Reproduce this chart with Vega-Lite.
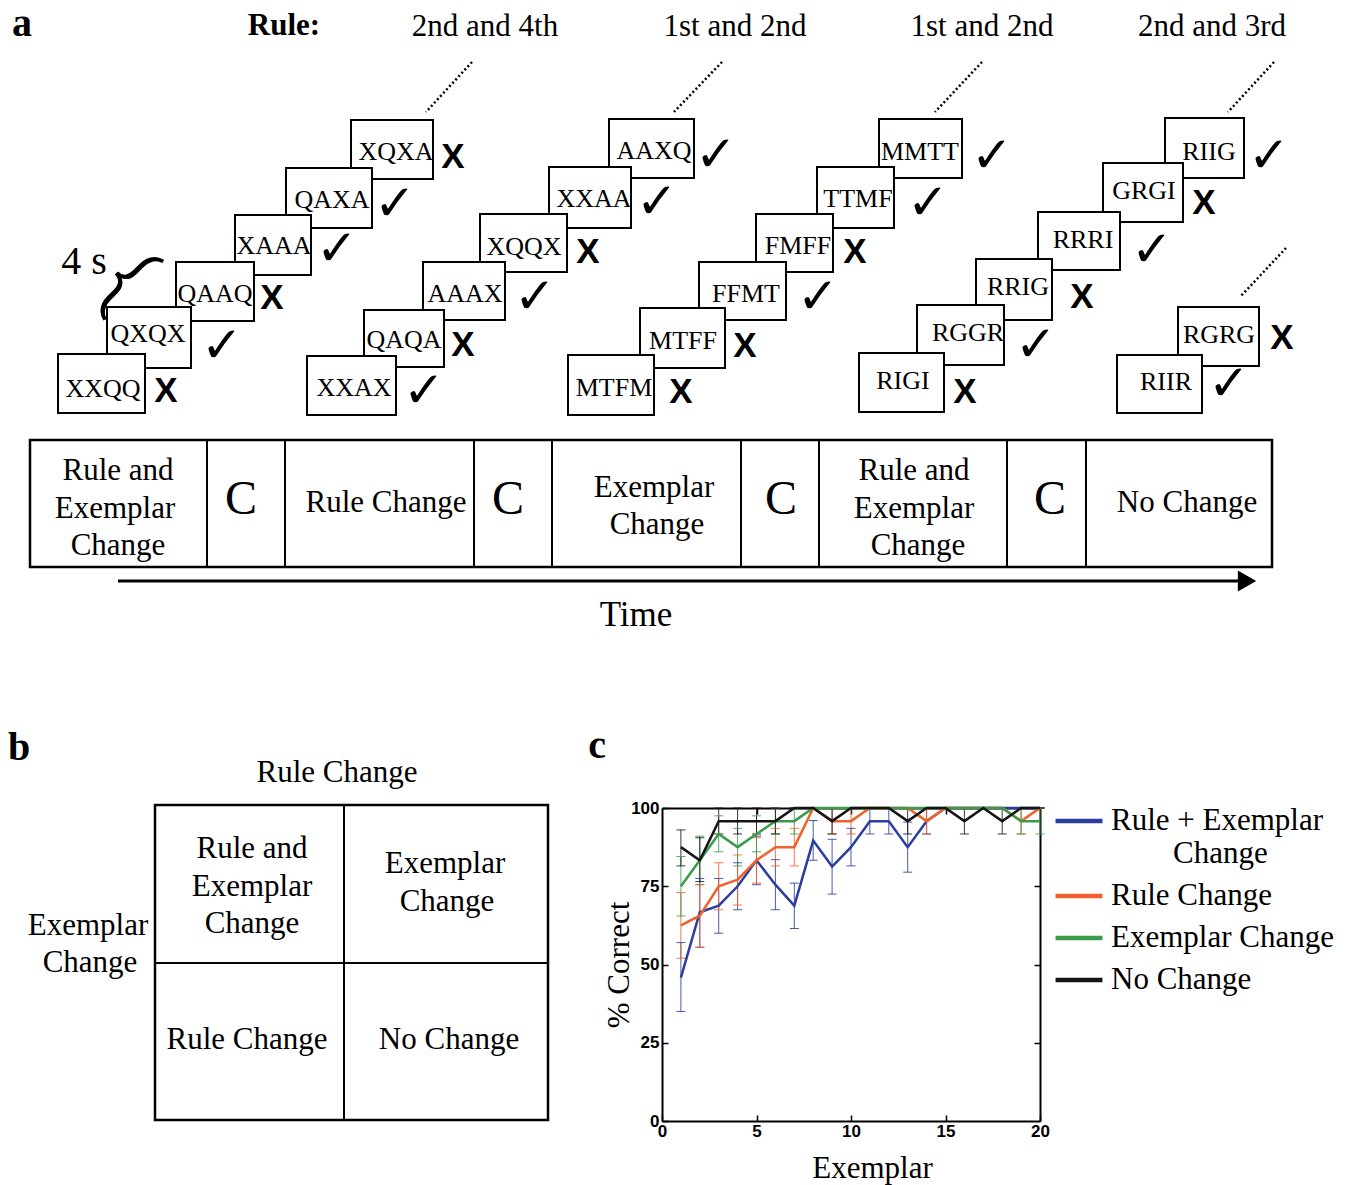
{
  "$schema": "https://vega.github.io/schema/vega-lite/v6.json",
  "padding": 0,
  "spacing": 0,
  "bounds": "flush",
  "background": "white",
  "config": {"view": {"stroke": null}},
  "datasets": {
    "boxes": [
      {"label":"XQXA","x":351,"x2":433,"y":120,"y2":179,"tx":396,"ty":152,"correct":false,"mx":453,"my":157},
      {"label":"QAXA","x":286,"x2":372,"y":168,"y2":228,"tx":332,"ty":200,"correct":true,"mx":395,"my":205},
      {"label":"XAAA","x":235,"x2":311,"y":215,"y2":275,"tx":274,"ty":246,"correct":true,"mx":337,"my":250},
      {"label":"QAAQ","x":176,"x2":254,"y":262,"y2":321,"tx":215,"ty":294,"correct":false,"mx":272,"my":298},
      {"label":"QXQX","x":107,"x2":191,"y":307,"y2":368,"tx":148,"ty":334,"correct":true,"mx":222,"my":347},
      {"label":"XXQQ","x":58,"x2":145,"y":354,"y2":413,"tx":103,"ty":389,"correct":false,"mx":166,"my":391},
      {"label":"AAXQ","x":609,"x2":694,"y":119,"y2":178,"tx":654,"ty":151,"correct":true,"mx":716,"my":156},
      {"label":"XXAA","x":549,"x2":631,"y":167,"y2":228,"tx":594,"ty":199,"correct":true,"mx":657,"my":203},
      {"label":"XQQX","x":480,"x2":567,"y":214,"y2":272,"tx":524,"ty":247,"correct":false,"mx":588,"my":252},
      {"label":"AAAX","x":423,"x2":505,"y":262,"y2":320,"tx":465,"ty":294,"correct":true,"mx":535,"my":298},
      {"label":"QAQA","x":364,"x2":444,"y":310,"y2":367,"tx":404,"ty":340,"correct":false,"mx":463,"my":345},
      {"label":"XXAX","x":307,"x2":396,"y":356,"y2":415,"tx":354,"ty":388,"correct":true,"mx":424,"my":392},
      {"label":"MMTT","x":879,"x2":962,"y":119,"y2":178,"tx":920,"ty":152,"correct":true,"mx":992,"my":157},
      {"label":"TTMF","x":817,"x2":894,"y":167,"y2":228,"tx":858,"ty":199,"correct":true,"mx":928,"my":204},
      {"label":"FMFF","x":756,"x2":833,"y":214,"y2":272,"tx":798,"ty":246,"correct":false,"mx":855,"my":252},
      {"label":"FFMT","x":699,"x2":786,"y":262,"y2":320,"tx":746,"ty":294,"correct":true,"mx":818,"my":298},
      {"label":"MTFF","x":640,"x2":725,"y":308,"y2":368,"tx":683,"ty":341,"correct":false,"mx":745,"my":346},
      {"label":"MTFM","x":568,"x2":654,"y":355,"y2":415,"tx":614,"ty":388,"correct":false,"mx":681,"my":392},
      {"label":"RIIG","x":1165,"x2":1244,"y":118,"y2":178,"tx":1209,"ty":152,"correct":true,"mx":1269,"my":157},
      {"label":"GRGI","x":1103,"x2":1183,"y":163,"y2":222,"tx":1144,"ty":191,"correct":false,"mx":1204,"my":203},
      {"label":"RRRI","x":1038,"x2":1120,"y":212,"y2":270,"tx":1083,"ty":240,"correct":true,"mx":1152,"my":251},
      {"label":"RRIG","x":976,"x2":1052,"y":259,"y2":320,"tx":1018,"ty":287,"correct":false,"mx":1082,"my":297},
      {"label":"RGGR","x":917,"x2":1004,"y":305,"y2":365,"tx":968,"ty":333,"correct":true,"mx":1036,"my":346},
      {"label":"RIGI","x":859,"x2":944,"y":353,"y2":412,"tx":903,"ty":381,"correct":false,"mx":965,"my":392},
      {"label":"RGRG","x":1178,"x2":1259,"y":307,"y2":366,"tx":1219,"ty":335,"correct":false,"mx":1282,"my":338},
      {"label":"RIIR","x":1117,"x2":1202,"y":355,"y2":413,"tx":1166,"ty":382,"correct":true,"mx":1229,"my":385}
    ],
    "segments": [
      {"kind":"dotted","x":472,"x2":426,"y":62,"y2":112},
      {"kind":"dotted","x":722,"x2":674,"y":62,"y2":112},
      {"kind":"dotted","x":982,"x2":935,"y":62,"y2":112},
      {"kind":"dotted","x":1274,"x2":1228,"y":62,"y2":112},
      {"kind":"dotted","x":1286,"x2":1241,"y":248,"y2":296},
      {"kind":"divider","x":207,"x2":207,"y":440,"y2":567},
      {"kind":"divider","x":285,"x2":285,"y":440,"y2":567},
      {"kind":"divider","x":474,"x2":474,"y":440,"y2":567},
      {"kind":"divider","x":552,"x2":552,"y":440,"y2":567},
      {"kind":"divider","x":741,"x2":741,"y":440,"y2":567},
      {"kind":"divider","x":819,"x2":819,"y":440,"y2":567},
      {"kind":"divider","x":1007,"x2":1007,"y":440,"y2":567},
      {"kind":"divider","x":1086,"x2":1086,"y":440,"y2":567},
      {"kind":"arrow","x":118,"x2":1238,"y":581,"y2":581}
    ],
    "atexts": [
      {"kind":"panel","text":"a","x":22,"y":4},
      {"kind":"panel","text":"b","x":19,"y":728},
      {"kind":"panel","text":"c","x":597,"y":726},
      {"kind":"head","text":"Rule:","x":284,"y":26},
      {"kind":"normal","text":"2nd and 4th","x":485,"y":27},
      {"kind":"normal","text":"1st and 2nd","x":735,"y":27},
      {"kind":"normal","text":"1st and 2nd","x":982,"y":27},
      {"kind":"normal","text":"2nd and 3rd","x":1212,"y":27},
      {"kind":"normal","text":"Rule Change","x":337,"y":773},
      {"kind":"normal","text":"Rule and","x":118,"y":471},
      {"kind":"normal","text":"Exemplar","x":115,"y":509},
      {"kind":"normal","text":"Change","x":118,"y":546},
      {"kind":"normal","text":"Rule Change","x":386,"y":503},
      {"kind":"normal","text":"Exemplar","x":654,"y":488},
      {"kind":"normal","text":"Change","x":657,"y":525},
      {"kind":"normal","text":"Rule and","x":914,"y":471},
      {"kind":"normal","text":"Exemplar","x":914,"y":509},
      {"kind":"normal","text":"Change","x":918,"y":546},
      {"kind":"normal","text":"No Change","x":1187,"y":503},
      {"kind":"fours","text":"4 s","x":84,"y":262},
      {"kind":"bigC","text":"C","x":241,"y":500},
      {"kind":"bigC","text":"C","x":508,"y":500},
      {"kind":"bigC","text":"C","x":781,"y":500},
      {"kind":"bigC","text":"C","x":1050,"y":500},
      {"kind":"time","text":"Time","x":636,"y":615},
      {"kind":"brace","text":"{","x":125,"y":281}
    ],
    "btexts": [
      {"text":"Rule and","x":252,"y":849},
      {"text":"Exemplar","x":252,"y":887},
      {"text":"Change","x":252,"y":924},
      {"text":"Exemplar","x":445,"y":864},
      {"text":"Change","x":447,"y":902},
      {"text":"Rule Change","x":247,"y":1040},
      {"text":"No Change","x":449,"y":1040},
      {"text":"Exemplar","x":88,"y":926},
      {"text":"Change","x":90,"y":963}
    ],
    "bsegs": [
      {"x":344,"x2":344,"y":805,"y2":1120},
      {"x":155,"x2":548,"y":963,"y2":963}
    ],
    "perf": [
      {"condition":"Rule + Exemplar Change","exemplar":1,"pct":45.8,"lo":35,"hi":57},
      {"condition":"Rule + Exemplar Change","exemplar":2,"pct":66.7,"lo":55.5,"hi":77.5},
      {"condition":"Rule + Exemplar Change","exemplar":3,"pct":68.8,"lo":60,"hi":77.5},
      {"condition":"Rule + Exemplar Change","exemplar":4,"pct":75,"lo":67.5,"hi":82.5},
      {"condition":"Rule + Exemplar Change","exemplar":5,"pct":83.3,"lo":75.5,"hi":91},
      {"condition":"Rule + Exemplar Change","exemplar":6,"pct":75.5,"lo":67.5,"hi":83.5},
      {"condition":"Rule + Exemplar Change","exemplar":7,"pct":68.8,"lo":61.5,"hi":76},
      {"condition":"Rule + Exemplar Change","exemplar":8,"pct":89.6,"lo":83.3,"hi":96},
      {"condition":"Rule + Exemplar Change","exemplar":9,"pct":81.3,"lo":72.5,"hi":90},
      {"condition":"Rule + Exemplar Change","exemplar":10,"pct":87.5,"lo":81.5,"hi":93.5},
      {"condition":"Rule + Exemplar Change","exemplar":11,"pct":95.8,"lo":91.7,"hi":100},
      {"condition":"Rule + Exemplar Change","exemplar":12,"pct":95.8,"lo":91.7,"hi":100},
      {"condition":"Rule + Exemplar Change","exemplar":13,"pct":87.5,"lo":79.5,"hi":95.5},
      {"condition":"Rule + Exemplar Change","exemplar":14,"pct":95.8,"lo":91.7,"hi":100},
      {"condition":"Rule + Exemplar Change","exemplar":15,"pct":100,"lo":100,"hi":100},
      {"condition":"Rule + Exemplar Change","exemplar":16,"pct":100,"lo":100,"hi":100},
      {"condition":"Rule + Exemplar Change","exemplar":17,"pct":100,"lo":100,"hi":100},
      {"condition":"Rule + Exemplar Change","exemplar":18,"pct":100,"lo":100,"hi":100},
      {"condition":"Rule + Exemplar Change","exemplar":19,"pct":100,"lo":100,"hi":100},
      {"condition":"Rule + Exemplar Change","exemplar":20,"pct":100,"lo":100,"hi":100},
      {"condition":"Rule Change","exemplar":1,"pct":62.5,"lo":52,"hi":73},
      {"condition":"Rule Change","exemplar":2,"pct":65.6,"lo":55.5,"hi":75.5},
      {"condition":"Rule Change","exemplar":3,"pct":75,"lo":67.5,"hi":82.5},
      {"condition":"Rule Change","exemplar":4,"pct":77.1,"lo":69,"hi":85},
      {"condition":"Rule Change","exemplar":5,"pct":83.3,"lo":76,"hi":90.5},
      {"condition":"Rule Change","exemplar":6,"pct":87.5,"lo":81.5,"hi":93.5},
      {"condition":"Rule Change","exemplar":7,"pct":87.5,"lo":81.5,"hi":93.5},
      {"condition":"Rule Change","exemplar":8,"pct":100,"lo":100,"hi":100},
      {"condition":"Rule Change","exemplar":9,"pct":95.8,"lo":91.7,"hi":100},
      {"condition":"Rule Change","exemplar":10,"pct":95.8,"lo":91.7,"hi":100},
      {"condition":"Rule Change","exemplar":11,"pct":100,"lo":100,"hi":100},
      {"condition":"Rule Change","exemplar":12,"pct":100,"lo":100,"hi":100},
      {"condition":"Rule Change","exemplar":13,"pct":100,"lo":100,"hi":100},
      {"condition":"Rule Change","exemplar":14,"pct":95.8,"lo":91.7,"hi":100},
      {"condition":"Rule Change","exemplar":15,"pct":100,"lo":100,"hi":100},
      {"condition":"Rule Change","exemplar":16,"pct":100,"lo":100,"hi":100},
      {"condition":"Rule Change","exemplar":17,"pct":100,"lo":100,"hi":100},
      {"condition":"Rule Change","exemplar":18,"pct":100,"lo":100,"hi":100},
      {"condition":"Rule Change","exemplar":19,"pct":95.8,"lo":91.7,"hi":100},
      {"condition":"Rule Change","exemplar":20,"pct":100,"lo":100,"hi":100},
      {"condition":"Exemplar Change","exemplar":1,"pct":75,"lo":65.5,"hi":84.5},
      {"condition":"Exemplar Change","exemplar":2,"pct":83.3,"lo":75.5,"hi":91},
      {"condition":"Exemplar Change","exemplar":3,"pct":91.7,"lo":86,"hi":97.5},
      {"condition":"Exemplar Change","exemplar":4,"pct":87.5,"lo":81.5,"hi":93.5},
      {"condition":"Exemplar Change","exemplar":5,"pct":91.7,"lo":86,"hi":97.5},
      {"condition":"Exemplar Change","exemplar":6,"pct":95.8,"lo":91.7,"hi":100},
      {"condition":"Exemplar Change","exemplar":7,"pct":95.8,"lo":91.7,"hi":100},
      {"condition":"Exemplar Change","exemplar":8,"pct":100,"lo":100,"hi":100},
      {"condition":"Exemplar Change","exemplar":9,"pct":100,"lo":100,"hi":100},
      {"condition":"Exemplar Change","exemplar":10,"pct":100,"lo":100,"hi":100},
      {"condition":"Exemplar Change","exemplar":11,"pct":100,"lo":100,"hi":100},
      {"condition":"Exemplar Change","exemplar":12,"pct":100,"lo":100,"hi":100},
      {"condition":"Exemplar Change","exemplar":13,"pct":100,"lo":100,"hi":100},
      {"condition":"Exemplar Change","exemplar":14,"pct":100,"lo":100,"hi":100},
      {"condition":"Exemplar Change","exemplar":15,"pct":100,"lo":100,"hi":100},
      {"condition":"Exemplar Change","exemplar":16,"pct":100,"lo":100,"hi":100},
      {"condition":"Exemplar Change","exemplar":17,"pct":100,"lo":100,"hi":100},
      {"condition":"Exemplar Change","exemplar":18,"pct":100,"lo":100,"hi":100},
      {"condition":"Exemplar Change","exemplar":19,"pct":95.8,"lo":91.7,"hi":100},
      {"condition":"Exemplar Change","exemplar":20,"pct":95.8,"lo":91.7,"hi":100},
      {"condition":"No Change","exemplar":1,"pct":87.5,"lo":81.5,"hi":93},
      {"condition":"No Change","exemplar":2,"pct":83.3,"lo":76.5,"hi":90.5},
      {"condition":"No Change","exemplar":3,"pct":95.8,"lo":91.7,"hi":100},
      {"condition":"No Change","exemplar":4,"pct":95.8,"lo":91.7,"hi":100},
      {"condition":"No Change","exemplar":5,"pct":95.8,"lo":91.7,"hi":100},
      {"condition":"No Change","exemplar":6,"pct":95.8,"lo":91.7,"hi":100},
      {"condition":"No Change","exemplar":7,"pct":100,"lo":100,"hi":100},
      {"condition":"No Change","exemplar":8,"pct":100,"lo":100,"hi":100},
      {"condition":"No Change","exemplar":9,"pct":95.8,"lo":91.7,"hi":100},
      {"condition":"No Change","exemplar":10,"pct":100,"lo":100,"hi":100},
      {"condition":"No Change","exemplar":11,"pct":100,"lo":100,"hi":100},
      {"condition":"No Change","exemplar":12,"pct":100,"lo":100,"hi":100},
      {"condition":"No Change","exemplar":13,"pct":95.8,"lo":91.7,"hi":100},
      {"condition":"No Change","exemplar":14,"pct":100,"lo":100,"hi":100},
      {"condition":"No Change","exemplar":15,"pct":100,"lo":100,"hi":100},
      {"condition":"No Change","exemplar":16,"pct":95.8,"lo":91.7,"hi":100},
      {"condition":"No Change","exemplar":17,"pct":100,"lo":100,"hi":100},
      {"condition":"No Change","exemplar":18,"pct":95.8,"lo":91.7,"hi":100},
      {"condition":"No Change","exemplar":19,"pct":100,"lo":100,"hi":100},
      {"condition":"No Change","exemplar":20,"pct":100,"lo":100,"hi":100}
    ]
  },
  "vconcat": [
    {
      "width": 1352,
      "height": 808,
      "layer": [
        {"data":{"name":"boxes"},
         "mark":{"type":"rect","fill":"white","stroke":"black","strokeWidth":2},
         "encoding":{
           "x":{"field":"x","type":"quantitative","scale":{"domain":[0,1352],"nice":false,"zero":false},"axis":null},
           "x2":{"field":"x2"},
           "y":{"field":"y","type":"quantitative","scale":{"domain":[0,808],"reverse":true,"nice":false,"zero":false},"axis":null},
           "y2":{"field":"y2"}}},
        {"data":{"name":"boxes"},
         "mark":{"type":"text","font":"Liberation Serif","fontSize":26,"align":"center","baseline":"middle","color":"black"},
         "encoding":{
           "x":{"field":"tx","type":"quantitative","axis":null},
           "y":{"field":"ty","type":"quantitative","axis":null},
           "text":{"field":"label"}}},
        {"data":{"name":"boxes"},
         "transform":[{"filter":"datum.correct"}],
         "mark":{"type":"text","text":"✓","font":"DejaVu Sans","fontSize":50,"align":"center","baseline":"middle","color":"black"},
         "encoding":{
           "x":{"field":"mx","type":"quantitative","axis":null},
           "y":{"field":"my","type":"quantitative","axis":null}}},
        {"data":{"name":"boxes"},
         "transform":[{"filter":"!datum.correct"}],
         "mark":{"type":"text","text":"X","font":"Liberation Sans","fontWeight":"bold","fontSize":35,"align":"center","baseline":"middle","color":"black"},
         "encoding":{
           "x":{"field":"mx","type":"quantitative","axis":null},
           "y":{"field":"my","type":"quantitative","axis":null}}},
        {"data":{"name":"segments"},
         "transform":[{"filter":"datum.kind === 'dotted'"}],
         "mark":{"type":"rule","color":"black","strokeWidth":2.5,"strokeDash":[2,2.5]},
         "encoding":{
           "x":{"field":"x","type":"quantitative","axis":null},
           "x2":{"field":"x2"},
           "y":{"field":"y","type":"quantitative","axis":null},
           "y2":{"field":"y2"}}},
        {"data":{"values":[{"x":30,"x2":1272,"y":440,"y2":567}]},
         "mark":{"type":"rect","fill":null,"fillOpacity":0,"stroke":"black","strokeWidth":2.5},
         "encoding":{
           "x":{"field":"x","type":"quantitative","axis":null},
           "x2":{"field":"x2"},
           "y":{"field":"y","type":"quantitative","axis":null},
           "y2":{"field":"y2"}}},
        {"data":{"name":"segments"},
         "transform":[{"filter":"datum.kind === 'divider'"}],
         "mark":{"type":"rule","color":"black","strokeWidth":2},
         "encoding":{
           "x":{"field":"x","type":"quantitative","axis":null},
           "x2":{"field":"x2"},
           "y":{"field":"y","type":"quantitative","axis":null},
           "y2":{"field":"y2"}}},
        {"data":{"name":"segments"},
         "transform":[{"filter":"datum.kind === 'arrow'"}],
         "mark":{"type":"rule","color":"black","strokeWidth":3},
         "encoding":{
           "x":{"field":"x","type":"quantitative","axis":null},
           "x2":{"field":"x2"},
           "y":{"field":"y","type":"quantitative","axis":null},
           "y2":{"field":"y2"}}},
        {"data":{"values":[{"x":1247,"y":581}]},
         "mark":{"type":"point","shape":"triangle-right","filled":true,"color":"black","opacity":1,"size":450},
         "encoding":{
           "x":{"field":"x","type":"quantitative","axis":null},
           "y":{"field":"y","type":"quantitative","axis":null}}},
        {"data":{"name":"atexts"},
         "transform":[{"filter":"datum.kind === 'panel'"}],
         "mark":{"type":"text","font":"Liberation Serif","fontWeight":"bold","fontSize":40,"align":"center","baseline":"top","color":"black"},
         "encoding":{
           "x":{"field":"x","type":"quantitative","axis":null},
           "y":{"field":"y","type":"quantitative","axis":null},
           "text":{"field":"text"}}},
        {"data":{"name":"atexts"},
         "transform":[{"filter":"datum.kind === 'head'"}],
         "mark":{"type":"text","font":"Liberation Serif","fontWeight":"bold","fontSize":31,"align":"center","baseline":"middle","color":"black"},
         "encoding":{
           "x":{"field":"x","type":"quantitative","axis":null},
           "y":{"field":"y","type":"quantitative","axis":null},
           "text":{"field":"text"}}},
        {"data":{"name":"atexts"},
         "transform":[{"filter":"datum.kind === 'normal'"}],
         "mark":{"type":"text","font":"Liberation Serif","fontSize":31,"align":"center","baseline":"middle","color":"black"},
         "encoding":{
           "x":{"field":"x","type":"quantitative","axis":null},
           "y":{"field":"y","type":"quantitative","axis":null},
           "text":{"field":"text"}}},
        {"data":{"name":"atexts"},
         "transform":[{"filter":"datum.kind === 'fours'"}],
         "mark":{"type":"text","font":"Liberation Serif","fontSize":40,"align":"center","baseline":"middle","color":"black"},
         "encoding":{
           "x":{"field":"x","type":"quantitative","axis":null},
           "y":{"field":"y","type":"quantitative","axis":null},
           "text":{"field":"text"}}},
        {"data":{"name":"atexts"},
         "transform":[{"filter":"datum.kind === 'bigC'"}],
         "mark":{"type":"text","font":"Liberation Serif","fontSize":48,"align":"center","baseline":"middle","color":"black"},
         "encoding":{
           "x":{"field":"x","type":"quantitative","axis":null},
           "y":{"field":"y","type":"quantitative","axis":null},
           "text":{"field":"text"}}},
        {"data":{"name":"atexts"},
         "transform":[{"filter":"datum.kind === 'time'"}],
         "mark":{"type":"text","font":"Liberation Serif","fontSize":35,"align":"center","baseline":"middle","color":"black"},
         "encoding":{
           "x":{"field":"x","type":"quantitative","axis":null},
           "y":{"field":"y","type":"quantitative","axis":null},
           "text":{"field":"text"}}},
        {"data":{"name":"atexts"},
         "transform":[{"filter":"datum.kind === 'brace'"}],
         "mark":{"type":"text","font":"Roboto","fontWeight":300,"fontSize":88,"angle":45,"align":"center","baseline":"middle","color":"black"},
         "encoding":{
           "x":{"field":"x","type":"quantitative","axis":null},
           "y":{"field":"y","type":"quantitative","axis":null},
           "text":{"field":"text"}}}
      ]
    },
    {
      "spacing": 0,
      "bounds": "flush",
      "hconcat": [
        {
          "width": 662,
          "height": 377,
          "layer": [
            {"data":{"values":[{"x":155,"x2":548,"y":805,"y2":1120}]},
             "mark":{"type":"rect","fill":null,"fillOpacity":0,"stroke":"black","strokeWidth":2.5},
             "encoding":{
               "x":{"field":"x","type":"quantitative","scale":{"domain":[0,662],"nice":false,"zero":false},"axis":null},
               "x2":{"field":"x2"},
               "y":{"field":"y","type":"quantitative","scale":{"domain":[808,1185],"reverse":true,"nice":false,"zero":false},"axis":null},
               "y2":{"field":"y2"}}},
            {"data":{"name":"bsegs"},
             "mark":{"type":"rule","color":"black","strokeWidth":2},
             "encoding":{
               "x":{"field":"x","type":"quantitative","axis":null},
               "x2":{"field":"x2"},
               "y":{"field":"y","type":"quantitative","axis":null},
               "y2":{"field":"y2"}}},
            {"data":{"name":"btexts"},
             "mark":{"type":"text","font":"Liberation Serif","fontSize":31,"align":"center","baseline":"middle","color":"black"},
             "encoding":{
               "x":{"field":"x","type":"quantitative","axis":null},
               "y":{"field":"y","type":"quantitative","axis":null},
               "text":{"field":"text"}}}
          ]
        },
        {
          "width": 378,
          "height": 313,
          "data": {"name": "perf"},
          "resolve": {
            "scale": {"color": "independent"},
            "legend": {"color": "independent"},
            "axis": {"x": "independent", "y": "independent"}
          },
          "layer": [
            {"mark":{"type":"rule","strokeWidth":1,"opacity":0.85},
             "encoding":{
               "x":{"field":"exemplar","type":"quantitative","scale":{"domain":[0,20],"nice":false,"zero":false},
                    "axis":{"orient":"bottom","values":[0,5,10,15,20],"title":"Exemplar","titleX":210,"grid":false,"tickSize":-6,"tickColor":"black","tickWidth":1.5,"domainColor":"black","domainWidth":2,"labelFont":"Liberation Sans","labelFontWeight":"bold","labelFontSize":17,"labelColor":"black","labelPadding":8,"labelFlush":false,"labelOverlap":false,"titleFont":"Liberation Serif","titleFontSize":31,"titleFontWeight":"normal","titleColor":"black","titlePadding":14}},
               "y":{"field":"lo","type":"quantitative","scale":{"domain":[0,100],"nice":false,"zero":false},
                    "axis":{"orient":"left","values":[0,25,50,75,100],"title":"% Correct","grid":false,"tickSize":-6,"tickColor":"black","tickWidth":1.5,"domainColor":"black","domainWidth":2,"labelFont":"Liberation Sans","labelFontWeight":"bold","labelFontSize":17,"labelColor":"black","labelPadding":9,"labelFlush":false,"labelOverlap":false,"titleFont":"Liberation Serif","titleFontSize":31,"titleFontWeight":"normal","titleColor":"black","titlePadding":-5}},
               "y2":{"field":"hi"},
               "color":{"field":"condition","type":"nominal","scale":{"domain":["Rule + Exemplar Change","Rule Change","Exemplar Change","No Change"],"range":["#2b3e9e","#f0622c","#3a9c4a","#151515"]},"legend":null}}},
            {"mark":{"type":"tick","orient":"horizontal","size":9,"thickness":1,"opacity":0.85},
             "encoding":{
               "x":{"field":"exemplar","type":"quantitative","axis":null},
               "y":{"field":"lo","type":"quantitative","axis":null},
               "color":{"field":"condition","type":"nominal","scale":{"domain":["Rule + Exemplar Change","Rule Change","Exemplar Change","No Change"],"range":["#2b3e9e","#f0622c","#3a9c4a","#151515"]},"legend":null}}},
            {"mark":{"type":"tick","orient":"horizontal","size":9,"thickness":1,"opacity":0.85},
             "encoding":{
               "x":{"field":"exemplar","type":"quantitative","axis":null},
               "y":{"field":"hi","type":"quantitative","axis":null},
               "color":{"field":"condition","type":"nominal","scale":{"domain":["Rule + Exemplar Change","Rule Change","Exemplar Change","No Change"],"range":["#2b3e9e","#f0622c","#3a9c4a","#151515"]},"legend":null}}},
            {"mark":{"type":"line","strokeWidth":2.5},
             "encoding":{
               "x":{"field":"exemplar","type":"quantitative",
                    "axis":{"orient":"top","values":[5,10,15],"labels":false,"title":null,"grid":false,"tickSize":-6,"tickColor":"black","tickWidth":1.5,"domainColor":"black","domainWidth":2}},
               "y":{"field":"pct","type":"quantitative",
                    "axis":{"orient":"right","values":[25,50,75],"labels":false,"title":null,"grid":false,"tickSize":-6,"tickColor":"black","tickWidth":1.5,"domainColor":"black","domainWidth":2}},
               "color":{"field":"condition","type":"nominal","scale":{"domain":["Rule + Exemplar Change","Rule Change","Exemplar Change","No Change"],"range":["#2b3e9e","#f0622c","#3a9c4a","#151515"]},
                        "legend":{"orient":"none","legendX":391,"legendY":-13,"title":null,"symbolType":"stroke","symbolSize":2200,"symbolStrokeWidth":4.5,"labelFont":"Liberation Serif","labelFontSize":31,"labelColor":"black","labelOffset":6,"rowPadding":1,"padding":0,"labelLimit":500,
                                  "labelExpr":"datum.label === 'Rule + Exemplar Change' ? ['Rule + Exemplar', '\u200b\u00a0\u00a0\u00a0\u00a0\u00a0\u00a0\u00a0\u00a0Change'] : datum.label"}}}}
          ]
        }
      ]
    }
  ]
}
